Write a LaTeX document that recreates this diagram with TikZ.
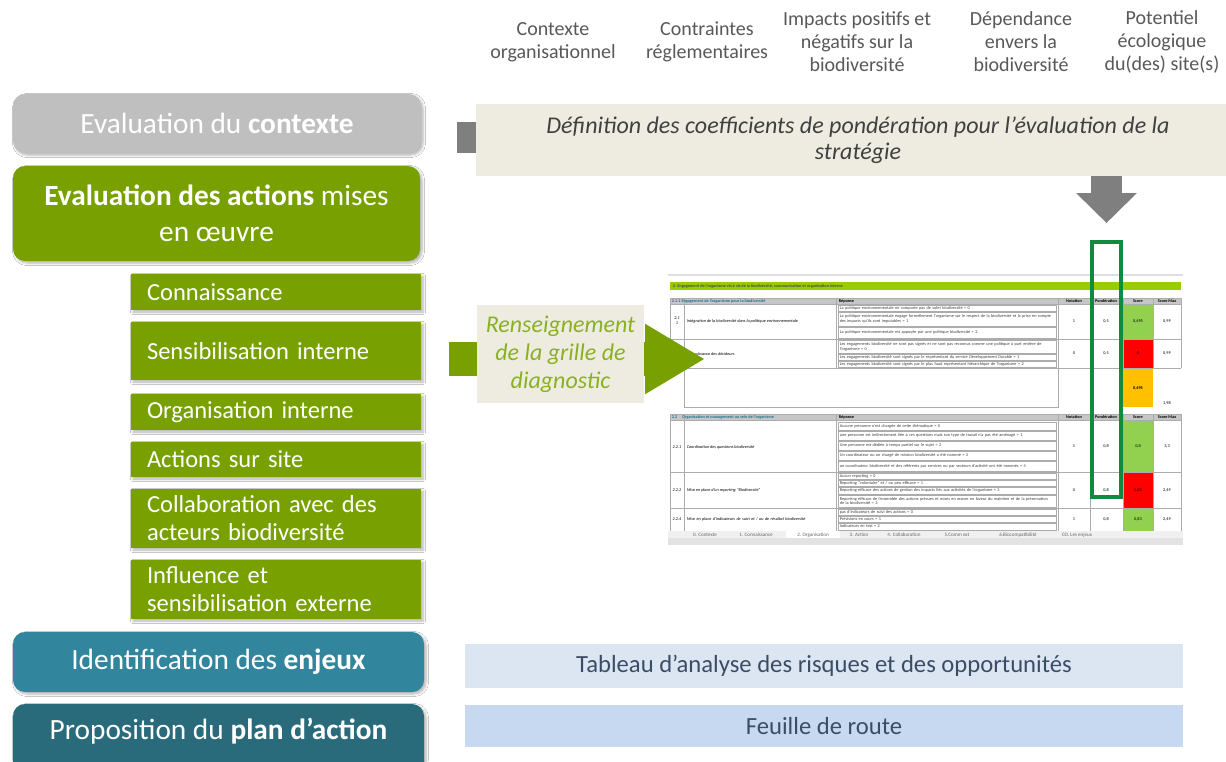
\documentclass[tikz,border=0pt]{standalone}
\usepackage{fontspec}
\setmainfont{Carlito}
\usepackage{xcolor}
\usetikzlibrary{arrows.meta, positioning, shadows.blur}
\definecolor{ctxgrey}{HTML}{BFBFBF}
\definecolor{actgreen}{HTML}{77A000}
\definecolor{enjteal}{HTML}{31859C}
\definecolor{plandark}{HTML}{2A6B7B}
\definecolor{beige}{HTML}{EEECE1}
\definecolor{arrowgrey}{HTML}{7F7F7F}
\definecolor{labelgrey}{HTML}{595959}
\definecolor{textgrey}{HTML}{404040}
\definecolor{renstext}{HTML}{8AB123}
\definecolor{barlight}{HTML}{DCE6F2}
\definecolor{barblue}{HTML}{C6D9F1}
\definecolor{bartext}{HTML}{3B4D66}
\definecolor{limeband}{HTML}{99CC00}
\definecolor{okgreen}{HTML}{92D050}
\definecolor{kored}{HTML}{FF0000}
\definecolor{midorange}{HTML}{FFC000}
\definecolor{framegreen}{HTML}{11893F}
\definecolor{headteal}{HTML}{1F7391}
\newcommand{\sheetfont}{\fontsize{3.2}{3.7}\selectfont}
\tikzset{
  softshadow/.style={blur shadow={shadow xshift=1.5pt, shadow yshift=-1.5pt,
      shadow blur steps=6, shadow opacity=30}}, % light drop shadow
  phase/.style={anchor=north west, inner sep=0pt, outer sep=0pt, rounded corners=9pt,
    text=white, align=center, font=\fontsize{22}{27}\selectfont, softshadow},
  theme/.style={anchor=north west, fill=actgreen, text=white, inner xsep=12pt,
    inner ysep=0pt, outer sep=0pt, text width=193.5pt, align=left,
    font=\fontsize{18.4}{21}\selectfont, softshadow},
  crit/.style={text=labelgrey, align=center, inner sep=0pt,
    font=\fontsize{15}{17.25}\selectfont},
  banner/.style={anchor=north west, fill=beige, inner sep=0pt, outer sep=0pt, align=center},
  outbar/.style={anchor=north west, inner sep=0pt, outer sep=0pt, minimum width=538.5pt,
    text=bartext, font=\fontsize{18.5}{22}\selectfont},
  tabline/.style={draw=gray!65, line width=0.25pt},
  cell/.style={inner sep=0.4pt, font=\sheetfont},
}

\begin{document}
\begin{tikzpicture}[x=0.75pt, y=-0.75pt]
  \fill[white] (0,0) rectangle (1226,761);
  \useasboundingbox (0,0) rectangle (1226,761);

  % criteria on top
  \node[crit] (orgctx) at (553,42) {Contexte\\organisationnel};
  \node[crit] (regl) at (707,42) {Contraintes\\réglementaires};
  \node[crit] (impacts) at (857,42) {Impacts positifs et\\négatifs sur la\\biodiversité};
  \node[crit] (dep) at (1021,42) {Dépendance\\envers la\\biodiversité};
  \node[crit] (pot) at (1162,42) {Potentiel\\écologique\\du(des) site(s)};

  % steps on the left
  \node[phase, fill=ctxgrey, minimum width=306pt, minimum height=44.25pt] (ctx) at (13,94)
    {Evaluation du \textbf{contexte}};
  \node[phase, fill=actgreen, minimum width=305.25pt, minimum height=71.25pt] (act) at (13,166)
    {\textbf{Evaluation des actions} mises\\en œuvre};
  \node[theme, minimum height=27pt] (conn) at (131,274) {Connaissance};
  \node[theme, minimum height=43.5pt, below=9pt of conn] (sens) {Sensibilisation interne};
  \node[theme, minimum height=27pt, below=10.5pt of sens] (orga) {Organisation interne};
  \node[theme, minimum height=26.25pt, below=9pt of orga] (site) {Actions sur site};
  \node[theme, minimum height=44.25pt, below=9pt of site] (collab) {Collaboration avec des\\acteurs biodiversité};
  \node[theme, minimum height=44.25pt, below=9pt of collab] (infl) {Influence et\\sensibilisation externe};
  \node[phase, fill=enjteal, minimum width=308.25pt, minimum height=45pt] (enj) at (13,632)
    {Identification des \textbf{enjeux}};
  \node[phase, fill=plandark, minimum width=308.25pt, minimum height=64.5pt,
    text height=15pt, text depth=26.5pt] (plan) at (13,704)
    {Proposition du \textbf{plan d’action}};

  % weighting banner
  \node[banner, minimum width=573pt, minimum height=54pt, text=textgrey,
    font=\itshape\fontsize{18}{19.5}\selectfont] (def) at (476,104)
    {Définition des coefficients de pondération pour l’évaluation de la\\stratégie};
  \draw[arrowgrey, line width=23.25pt] ([shift={(-19,-2.5)}]def.west) -- ([yshift=1.875pt]def.west);

  % diagnostic sheet
  \draw[gray!25, line width=0.8pt] (668,275) -- (1183,275);
  \fill[limeband] (670,282) rectangle (1181,290);
  \node[cell, anchor=west, text=black!70, font=\sheetfont\bfseries] (band) at (672,286)
    {2. Engagement de l’organisme vis à vis de la biodiversité, communication et organisation interne};
  \foreach \t in {298,414}
    \fill[gray!45] (670,\t) rectangle (1181,\t+6.5);
  \foreach \t/\b/\c in {304/339/okgreen, 339/368/kored, 368/407/midorange,
      421/472/okgreen, 472/508/kored, 508/531/okgreen}
    \fill[\c] (1123,\t) rectangle (1153,\b);
  \foreach \xx in {670,684,836,1058,1090,1123,1153,1181} {
    \draw[tabline] (\xx,298) -- (\xx,368);
    \draw[tabline] (\xx,414) -- (\xx,531);
  }
  \draw[tabline] (684,368) -- (684,407) -- (1058,407) -- (1058,368);
  \foreach \yy in {298,304.5,339,368,414,420.5,472,508}
    \draw[tabline] (670,\yy) -- (1181,\yy);
  \foreach \t/\b in {305/311, 312/326, 327/338, 340/353, 354/360, 361/367,
      422/430, 431/440, 441/450, 451/460, 461/471, 473/479, 480/486, 487/494,
      495/507, 509/515, 516/522, 523/530}
    \draw[tabline] (838,\t) rectangle (1056,\b);
  \foreach \yy/\txt in {
      308/{La politique environnementale ne comporte pas de volet biodiversité = 0},
      319/{La politique environnementale engage formellement l’organisme sur le respect de la biodiversité et la prise en compte des impacts qu’ils sont imputables = 1},
      332.5/{La politique environnementale est appuyée par une politique biodiversité = 2},
      346.5/{Les engagements biodiversité ne sont pas signés et ne sont pas reconnus comme une politique à part entière de l’organisme = 0},
      357/{Les engagements biodiversité sont signés par le représentant du service Développement Durable = 1},
      364/{Les engagements biodiversité sont signés par le plus haut représentant hiérarchique de l’organisme = 2},
      426/{Aucune personne n’est chargée de cette thématique = 0},
      435.5/{une personne est indirectement liée à ces questions mais son type de travail n’a pas été aménagé = 1},
      445.5/{Une personne est dédiée à temps partiel sur le sujet = 2},
      455.5/{Un coordinateur ou un chargé de mission biodiversité a été nommé = 3},
      466/{un coordinateur biodiversité et des référents par services ou par secteurs d’activité ont été nommés = 4},
      476/{Aucun reporting = 0},
      483/{Reporting “volontaire” et / ou peu efficace = 1},
      490.5/{Reporting efficace des actions de gestion des impacts liés aux activités de l’organisme = 2},
      501/{Reporting efficace de l’ensemble des actions prévues et mises en œuvre en faveur du maintien et de la préservation de la biodiversité = 3},
      512/{pas d’indicateurs de suivi des actions = 0},
      519/{Prévisions en cours = 1},
      526.5/{Indicateurs en test = 2}}
    \node[cell, anchor=west, text width=160pt, align=left, text=black!75] at (839,\yy) {\txt};
  % headers
  \foreach \yy/\txt in {301.25/{2.1.1 Engagement de l’organisme pour la biodiversité},
      417.25/{2.2\hspace{3pt} Organisation et management au sein de l’organisme}}
    \node[cell, anchor=west, text=headteal, font=\sheetfont\bfseries] at (671,\yy) {\txt};
  \foreach \yy in {301.25,417.25} {
    \node[cell, anchor=west, font=\sheetfont\bfseries] at (838,\yy) {Réponse};
    \foreach \xx/\txt in {1074/Notation, 1106/Pondération, 1138/Score, 1167/Score Max}
      \node[cell, font=\sheetfont\bfseries] at (\xx,\yy) {\txt};
  }
  \foreach \yy/\txt in {321/{Intégration de la biodiversité dans la politique environnementale},
      354/{Connaissance des décideurs}, 447/{Coordination des questions biodiversité},
      490/{Mise en place d’un reporting “Biodiversité”}}
    \node[cell, anchor=west, font=\sheetfont\itshape] at (686,\yy) {\txt};
  \node[cell, anchor=west, text width=110pt, align=left, font=\sheetfont\itshape] at (686,519)
    {Mise en place d’indicateurs de suivi et / ou de résultat biodiversité};
  \foreach \yy/\txt in {321/{2.1\\1}, 447/2.2.1, 490/2.2.2, 519/2.2.4}
    \node[cell, align=center, font=\sheetfont\itshape] at (677,\yy) {\txt};
  \foreach \yy/\n/\p/\s/\m in {321/1/{0,5}/{0,495}/{0,99}, 353/0/{0,5}/0/{0,99},
      446/1/{0,8}/{0,8}/{3,3}, 490/0/{0,8}/{0,83}/{2,49}, 519/1/{0,8}/{0,83}/{2,49}} {
    \node[cell] at (1074,\yy) {\n};
    \node[cell] at (1106,\yy) {\p};
    \node[cell] at (1138,\yy) {\s};
    \node[cell] at (1167,\yy) {\m};
  }
  \node[cell, font=\sheetfont\bfseries] (total) at (1138,388) {0,495};
  \node[cell] (totalmax) at (1167,403) {1,98};
  % sheet tabs
  \fill[gray!12] (668,531) rectangle (1183,538);
  \fill[gray!22] (668,538) rectangle (1183,545);
  \fill[white] (786,531) rectangle (840,538);
  \foreach \xx/\txt in {705/{0. Contexte}, 756/{1. Connaissance}, 813/{2. Organisation},
      859/{3. Action}, 904/{4. Collaboration}, 957/{5.Comm ext},
      1018/{6.Biocompatibilité}, 1077/{CO. Les enjeux}}
    \node[cell, anchor=base, text=black!60, font=\fontsize{3.8}{4}\selectfont] at (\xx,536.5) {\txt};

  % weighting column
  \node[draw=framegreen, line width=2.6pt, inner sep=0pt, outer sep=0pt, anchor=north west,
    minimum width=21.75pt, minimum height=191.25pt] (pond) at (1092,242) {};
  \draw[arrowgrey, line width=23.25pt, -{Triangle[width=44.25pt, length=22.5pt]}]
    (def.south -| pond.north) -- ([yshift=14.25pt]pond.north);

  % filling in the grid
  \coordinate (feed) at (449,359);
  \coordinate (feedtip) at (705,359);
  \draw[actgreen, line width=25.5pt, -{Triangle[width=49.5pt, length=45pt]}] (feed) -- (feedtip);
  \node[banner, minimum width=125.25pt, minimum height=73.5pt, text=renstext,
    font=\itshape\fontsize{18}{21}\selectfont] (rens) at (477,305)
    {Renseignement\\de la grille de\\diagnostic};

  % outputs
  \node[outbar, fill=barlight, minimum height=33pt] (risk) at (465,644)
    {Tableau d’analyse des risques et des opportunités};
  \node[outbar, fill=barblue, minimum height=31.5pt, below=12.75pt of risk] (road) {Feuille de route};
\end{tikzpicture}
\end{document}
